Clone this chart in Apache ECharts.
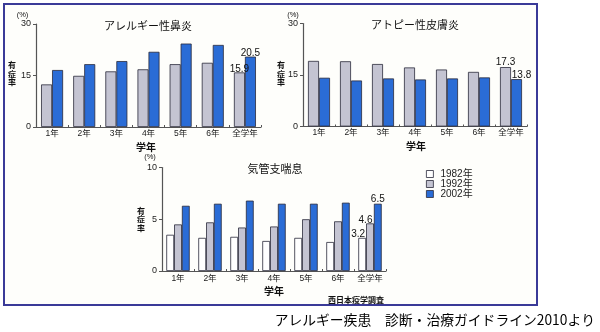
<!DOCTYPE html>
<html>
<head>
<meta charset="utf-8">
<script src="https://cdn.jsdelivr.net/npm/echarts@6/dist/echarts.min.js"></script>
<style>
html,body{margin:0;padding:0;background:#ffffff;}
#main{width:600px;height:332px;}
</style>
</head>
<body>
<div id="main"></div>
<script>
// ---- data ----
const categories = ['1年', '2年', '3年', '4年', '5年', '6年', '全学年'];
const seriesNames = ['1982年', '1992年', '2002年'];
const rhinitis1992 = [12.4, 14.9, 16.2, 16.8, 18.3, 18.7, 15.9];
const rhinitis2002 = [16.6, 18.3, 19.2, 21.9, 24.3, 23.9, 20.5];
const atopic1992 = [19.1, 19.0, 18.2, 17.2, 16.6, 15.9, 17.3];
const atopic2002 = [14.2, 13.4, 14.0, 13.7, 14.0, 14.3, 13.8];
const asthma1982 = [3.5, 3.2, 3.3, 2.9, 3.2, 2.8, 3.2];
const asthma1992 = [4.5, 4.7, 4.2, 4.3, 5.0, 4.8, 4.6];
const asthma2002 = [6.3, 6.5, 6.8, 6.5, 6.5, 6.6, 6.5];
const chartTitles = ['アレルギー性鼻炎', 'アトピー性皮膚炎', '気管支喘息'];
const yTicks12 = [0, 15, 30];
const yTicks3 = [0, 5, 10];
const yAxisName = ['有', '症', '率'];

// ---- styles ----
const FONT = '"Liberation Sans", "Noto Sans CJK JP", sans-serif';
const CJK = '"Noto Sans CJK JP", sans-serif';
const colors = { '1982年': '#ffffff', '1992年': '#c4c4d2', '2002年': '#2a6cd6' };
const edge = '#2a2a3a';

function withLastLabel(values, offset) {
  return values.map((v, i) => {
    if (i !== values.length - 1) return v;
    return {
      value: v,
      label: {
        show: true, position: 'top', distance: 0, offset: offset,
        fontSize: 10, color: '#111', fontFamily: FONT,
        formatter: (p) => p.value.toFixed(1)
      }
    };
  });
}

function xAxis(gi) {
  return {
    type: 'category', gridIndex: gi, data: categories,
    axisLine: { lineStyle: { color: '#555', width: 1.2 } },
    axisTick: { show: true, inside: true, length: 2, lineStyle: { color: '#555' } },
    axisLabel: { interval: 0, fontSize: 8.5, color: '#222', margin: gi === 2 ? 3 : 2, fontFamily: FONT }
  };
}
function yAxis(gi, ticks) {
  return {
    type: 'value', gridIndex: gi, min: ticks[0], max: ticks[2], interval: ticks[1],
    splitLine: { show: false },
    axisLine: { show: true, lineStyle: { color: '#555', width: 1.2 } },
    axisTick: { show: true, length: 3, lineStyle: { color: '#555' } },
    axisLabel: { fontSize: 9, color: '#222', margin: 5, fontFamily: FONT }
  };
}
function bar(name, gi, data, width) {
  return {
    type: 'bar', name: name, xAxisIndex: gi, yAxisIndex: gi, data: data,
    barWidth: width, barGap: '0%',
    itemStyle: { color: colors[name], borderColor: edge, borderWidth: 0.8 },
    emphasis: { disabled: true }
  };
}

function txt(x, y, s, size, opts) {
  return {
    type: 'text', x: x, y: y, z: 10,
    style: Object.assign({ text: s, fontSize: size, fill: '#111', fontFamily: CJK,
      align: 'center', verticalAlign: 'middle' }, (opts || {}))
  };
}
function vtxt(x, yTop, step) {
  return yAxisName.map((c, i) => txt(x, yTop + i * step, c, 8, { fontWeight: 'bold' }));
}

const option = {
  animation: false,
  backgroundColor: '#ffffff',
  grid: [
    { left: 36, top: 24, width: 225, height: 103 },
    { left: 303, top: 23.5, width: 224, height: 103 },
    { left: 162, top: 167.5, width: 224, height: 103.5 }
  ],
  xAxis: [xAxis(0), xAxis(1), xAxis(2)],
  yAxis: [yAxis(0, yTicks12), yAxis(1, yTicks12), yAxis(2, yTicks3)],
  legend: {
    left: 421, top: 164, orient: 'vertical',
    data: seriesNames, icon: 'rect', itemWidth: 7, itemHeight: 7, itemGap: 0,
    itemStyle: { borderColor: edge, borderWidth: 0.8 },
    textStyle: { fontSize: 10, color: '#222', fontFamily: FONT, lineHeight: 10, padding: [0, 0, 0, 2] },
    selectedMode: false
  },
  series: [
    bar('1992年', 0, withLastLabel(rhinitis1992, [0, 2]), 11),
    bar('2002年', 0, withLastLabel(rhinitis2002, [0, 2]), 11),
    bar('1992年', 1, withLastLabel(atopic1992, [0, 0]), 11),
    bar('2002年', 1, withLastLabel(atopic2002, [5, 1]), 11),
    bar('1982年', 2, withLastLabel(asthma1982, [-4, 1.5]), 7.8),
    bar('1992年', 2, withLastLabel(asthma1992, [-4.5, 1.7]), 7.8),
    bar('2002年', 2, withLastLabel(asthma2002, [0, 1]), 7.8)
  ],
  graphic: [
    { type: 'rect', z: -10, shape: { x: 4, y: 4, width: 533, height: 301 },
      style: { fill: '#fefefb', stroke: '#3a3a98', lineWidth: 2 } },
    txt(148, 26, chartTitles[0], 11),
    txt(415, 25, chartTitles[1], 11),
    txt(275, 169, chartTitles[2], 11),
    txt(22.5, 14.5, '(%)', 7.5, { fontFamily: FONT }),
    txt(293, 15, '(%)', 7.5, { fontFamily: FONT }),
    txt(150, 157, '(%)', 7.5, { fontFamily: FONT }),
    ...vtxt(12, 65, 8.5),
    ...vtxt(281, 65, 8.5),
    ...vtxt(141, 211, 8.3),
    txt(146, 147, '学年', 10, { fontWeight: 'bold' }),
    txt(416, 146, '学年', 10, { fontWeight: 'bold' }),
    txt(274, 291, '学年', 10, { fontWeight: 'bold' }),
    txt(356, 299.5, '西日本疫学調査', 8, { fontWeight: 'bold' }),
    txt(595, 320, 'アレルギー疾患　診断・治療ガイドライン2010より', 13.8, { align: 'right', fill: '#000' })
  ]
};

const chart = echarts.init(document.getElementById('main'), null, { renderer: 'canvas' });
chart.setOption(option);
</script>
</body>
</html>
